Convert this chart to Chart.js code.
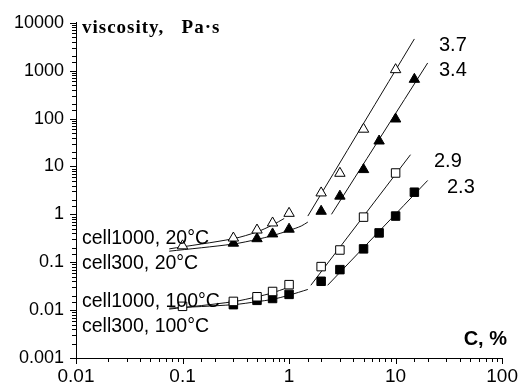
<!DOCTYPE html>
<html>
<head>
<meta charset="UTF-8">
<title>viscosity vs concentration</title>
<script src="https://cdn.jsdelivr.net/npm/chart.js"></script>
<style>
    html, body { margin: 0; padding: 0; background: #fff; }
    #wrap { width: 525px; height: 388px; }
</style>
</head>
<body>
<div id="wrap"><canvas id="viscChart"></canvas></div>
<script>
// tick labels (index = exponent - lowest exponent)
const xTickLabels = ['0.01', '0.1', '1', '10', '100'];
const yTickLabels = ['0.001', '0.01', '0.1', '1', '10', '100', '1000', '10000'];

// measured points, C in %, viscosity in Pa·s
const c1000_20_x = [0.1, 0.3, 0.5, 0.7, 1, 2, 3, 5, 10];
const c1000_20_y = [0.22, 0.32, 0.47, 0.66, 1.05, 2.8, 7.2, 60, 1050];
const c300_20_x = [0.3, 0.5, 0.7, 1, 2, 3, 5, 7, 10, 15];
const c300_20_y = [0.25, 0.31, 0.39, 0.49, 1.16, 2.4, 8.6, 34, 98, 660];
const c1000_100_x = [0.1, 0.3, 0.5, 0.7, 1, 2, 3, 5, 10];
const c1000_100_y = [0.012, 0.0152, 0.019, 0.0245, 0.034, 0.081, 0.18, 0.875, 7.3];
const c300_100_x = [0.3, 0.5, 0.7, 1, 2, 3, 5, 7, 10, 15];
const c300_100_y = [0.013, 0.016, 0.0175, 0.0213, 0.04, 0.07, 0.19, 0.41, 0.92, 2.9];

// fitted curves (dilute part and power-law part)
const fit1000_20_dil_x = [0.075, 0.3, 0.5, 0.7, 0.9];
const fit1000_20_dil_y = [0.19, 0.31, 0.43, 0.6, 0.82];
const fit300_20_dil_x = [0.075, 0.3, 0.5, 0.7, 1.0, 1.3, 1.5];
const fit300_20_dil_y = [0.17, 0.24, 0.3, 0.36, 0.46, 0.57, 0.69];
const fit1000_100_dil_x = [0.075, 0.3, 0.5, 0.7, 0.95];
const fit1000_100_dil_y = [0.0105, 0.015, 0.019, 0.023, 0.029];
const fit300_100_dil_x = [0.075, 0.3, 0.5, 0.7, 1.0, 1.5];
const fit300_100_dil_y = [0.011, 0.013, 0.015, 0.0168, 0.0205, 0.027];

const fit37_x = [1.5, 15];
const fit37_y = [0.92, 4600];
const fit34_x = [2.5, 20];
const fit34_y = [1.0, 1450];
const fit29_x = [1.6, 13.8];
const fit29_y = [0.033, 17.6];
const fit23_x = [2.3, 20];
const fit23_y = [0.033, 5.1];

const slopeLabels = ['3.7', '3.4', '2.9', '2.3'];
const seriesLabels = ['cell1000, 20°C', 'cell300, 20°C', 'cell1000, 100°C', 'cell300, 100°C'];

function pts(xs, ys) {
    return xs.map((x, i) => ({ x: x, y: ys[i] }));
}

function isDecade(v) {
    const l = Math.log10(v);
    return Math.abs(l - Math.round(l)) < 1e-6;
}

function markers(xs, ys, style, filled) {
    return {
        data: pts(xs, ys),
        showLine: false,
        pointStyle: style,
        pointRadius: 6,
        pointBorderWidth: 1,
        pointBorderColor: '#000',
        pointBackgroundColor: filled ? '#000' : '#fff'
    };
}

function fitLine(xs, ys) {
    return {
        data: pts(xs, ys),
        showLine: true,
        pointRadius: 0,
        borderColor: '#111',
        borderWidth: 1,
        tension: 0.3
    };
}

// short minor ticks, longer decade ticks, plus free text
const decorPlugin = {
    id: 'decor',
    afterDraw(chart) {
        const ctx = chart.ctx;
        const xs = chart.scales.x, ys = chart.scales.y;
        ctx.save();
        ctx.strokeStyle = '#000';
        ctx.lineWidth = 1;
        ctx.beginPath();
        xs.ticks.forEach(t => {
            const px = Math.round(xs.getPixelForValue(t.value)) + 0.5;
            const len = isDecade(t.value) ? 6 : 4;
            ctx.moveTo(px, xs.top);
            ctx.lineTo(px, xs.top + len);
        });
        ys.ticks.forEach(t => {
            const py = Math.round(ys.getPixelForValue(t.value)) + 0.5;
            const len = isDecade(t.value) ? 6 : 4;
            ctx.moveTo(ys.right, py);
            ctx.lineTo(ys.right - len, py);
        });
        ctx.stroke();

        ctx.fillStyle = '#000';
        ctx.textAlign = 'left';
        ctx.textBaseline = 'alphabetic';
        ctx.font = 'bold 19px "Liberation Serif"';
        ctx.letterSpacing = '1px';
        ctx.fillText('viscosity,   Pa·s', 82, 33);
        ctx.letterSpacing = '0px';

        ctx.font = 'bold 20px "Liberation Sans"';
        ctx.textAlign = 'right';
        ctx.fillText('C, %', 507, 345);

        ctx.textAlign = 'left';
        ctx.font = '19.5px "Liberation Sans"';
        ctx.fillText(seriesLabels[0], 82, 244);
        ctx.fillText(seriesLabels[1], 82, 269);
        ctx.fillText(seriesLabels[2], 82, 307);
        ctx.fillText(seriesLabels[3], 82, 332);

        ctx.font = '20px "Liberation Sans"';
        ctx.fillText(slopeLabels[0], 439, 51);
        ctx.fillText(slopeLabels[1], 439, 76);
        ctx.fillText(slopeLabels[2], 434, 167);
        ctx.fillText(slopeLabels[3], 447, 193);
        ctx.restore();
    }
};

const ctx = document.getElementById('viscChart').getContext('2d');
new Chart(ctx, {
    type: 'scatter',
    data: {
        datasets: [
            markers(c1000_20_x, c1000_20_y, 'triangle', false),
            markers(c300_20_x, c300_20_y, 'triangle', true),
            markers(c1000_100_x, c1000_100_y, 'rect', false),
            markers(c300_100_x, c300_100_y, 'rect', true),
            fitLine(fit1000_20_dil_x, fit1000_20_dil_y),
            fitLine(fit300_20_dil_x, fit300_20_dil_y),
            fitLine(fit1000_100_dil_x, fit1000_100_dil_y),
            fitLine(fit300_100_dil_x, fit300_100_dil_y),
            fitLine(fit37_x, fit37_y),
            fitLine(fit34_x, fit34_y),
            fitLine(fit29_x, fit29_y),
            fitLine(fit23_x, fit23_y)
        ]
    },
    options: {
        responsive: true,
        maintainAspectRatio: false,
        animation: false,
        devicePixelRatio: 1,
        layout: { padding: { left: 0, right: 17, top: 20, bottom: 0 } },
        plugins: { legend: { display: false }, tooltip: { enabled: false } },
        scales: {
            x: {
                type: 'logarithmic',
                min: 0.01,
                max: 100,
                afterFit: s => { s.height = 30; },
                grid: { display: false, drawTicks: false },
                border: { display: true, color: '#000', width: 1 },
                ticks: {
                    autoSkip: false,
                    maxRotation: 0,
                    padding: 7,
                    color: '#000',
                    font: { family: 'Liberation Sans', size: 19 },
                    callback: v => isDecade(v) ? xTickLabels[Math.round(Math.log10(v)) + 2] : ''
                }
            },
            y: {
                type: 'logarithmic',
                min: 0.001,
                max: 10000,
                afterFit: s => { s.width = 76; },
                grid: { display: false, drawTicks: false },
                border: { display: true, color: '#000', width: 1 },
                ticks: {
                    autoSkip: false,
                    padding: 12,
                    color: '#000',
                    font: { family: 'Liberation Sans', size: 18 },
                    callback: v => isDecade(v) ? yTickLabels[Math.round(Math.log10(v)) + 3] : ''
                }
            }
        }
    },
    plugins: [decorPlugin]
});
</script>
</body>
</html>
